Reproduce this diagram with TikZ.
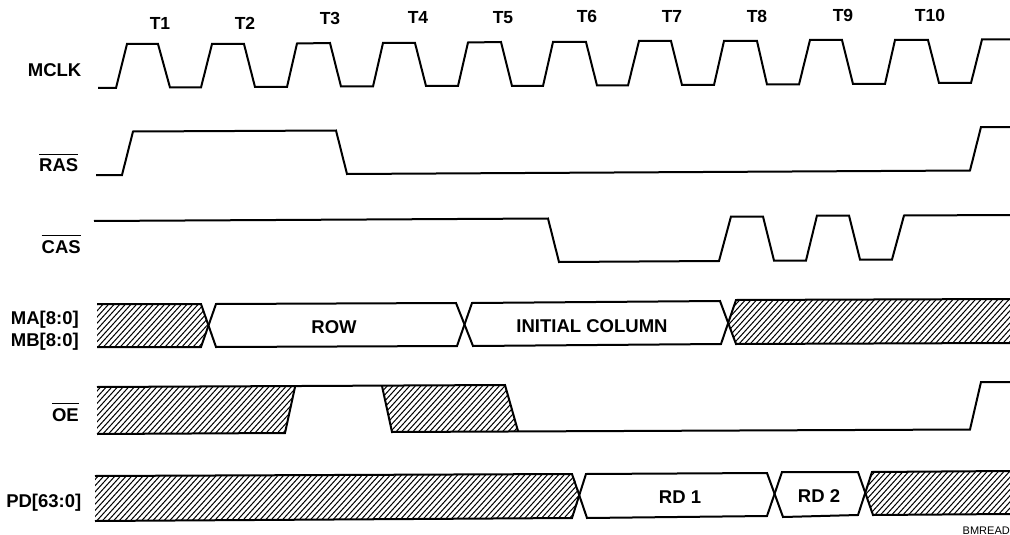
\documentclass[tikz,border=0pt]{standalone}
\usepackage{fontspec}
\setmainfont{Liberation Sans}
\newcommand\ovl[1]{\vbox{\hrule height 1.3pt \kern 3.6pt \hbox{#1}}}
\newcommand\hatchfill[1]{\begin{scope}\clip #1;
  \foreach \hx in {-130,-124.4,...,1012} \draw[hatchline] (\hx,530) -- ++(218,-240);
\end{scope}}
\tikzset{
  wave/.style={line width=2pt,line join=miter,black},
  hatchline/.style={line width=1pt,black},
  lab/.style={font=\bfseries\fontsize{18.5}{20}\selectfont,inner sep=0pt,anchor=base east,text=black},
  tick/.style={font=\bfseries\fontsize{17.5}{20}\selectfont,inner sep=0pt,anchor=base,text=black},
  inbus/.style={font=\bfseries\fontsize{18.5}{20}\selectfont,inner sep=0pt,anchor=base,text=black},
}
\begin{document}
\begin{tikzpicture}[x=1pt,y=-1pt]
\useasboundingbox[fill=white] (0,0) rectangle (1010,535);
% clock labels
\node[tick] (t1) at (160,30) {T1};
\node[tick] (t2) at (245,30) {T2};
\node[tick] (t3) at (330,24.5) {T3};
\node[tick] (t4) at (418,24) {T4};
\node[tick] (t5) at (503,24) {T5};
\node[tick] (t6) at (587,23) {T6};
\node[tick] (t7) at (672,23) {T7};
\node[tick] (t8) at (757,22.5) {T8};
\node[tick] (t9) at (843,22) {T9};
\node[tick] (t10) at (930,22) {T10};
% signal labels
\node[lab] (mclk) at (81.5,76.5) {MCLK};
\node[lab] (ras) at (78.5,171.5) {\ovl{RAS}};
\node[lab] (cas) at (81,253) {\ovl{CAS}};
\node[lab] (ma) at (79,324.5) {MA[8:0]};
\node[lab] (mb) at (79,346) {MB[8:0]};
\node[lab] (oe) at (79,421) {\ovl{OE}};
\node[lab] (pd) at (81.5,507.5) {PD[63:0]};
% MCLK
\draw[wave] (98,88) -- (116,88) -- (127,44) -- (158,44) -- (170,87.5) -- (201,87.5)
  -- (212,44) -- (244,44) -- (255,87) -- (287,87) -- (297,43.5) -- (330,43)
  -- (341,86.5) -- (373,86.5) -- (383,43) -- (415,43) -- (426,86) -- (458,86)
  -- (468,42.5) -- (501,42) -- (512,86) -- (543,86) -- (553,42) -- (586,42)
  -- (597,85.5) -- (628,85.5) -- (639,41) -- (671,41) -- (682,85) -- (714,85)
  -- (724,41) -- (757,41) -- (767,84.5) -- (799,84.5) -- (810,40) -- (842,40)
  -- (853,84) -- (885,84) -- (895,40) -- (928,40) -- (939,83) -- (971,83)
  -- (982,39.5) -- (1010,39.5);
% RAS
\draw[wave] (96,175) -- (122,175) -- (133,131.5) -- (336,130.5) -- (347,174)
  -- (970,170.5) -- (981,127) -- (1010,127);
% CAS
\draw[wave] (94,221) -- (548,218.5) -- (559,262) -- (719,261) -- (731,216.5)
  -- (763,216.5) -- (774,260.5) -- (806,260.5) -- (817,215.5) -- (849,215.5)
  -- (860,259.5) -- (892,259.5) -- (904,215.5) -- (1010,215);
% MA/MB bus
\hatchfill{(97,304) -- (201,304) -- (208,325) -- (201,347) -- (97,347) -- cycle}
\hatchfill{(736,300) -- (1010,299) -- (1010,343) -- (736,344) -- (728,323) -- cycle}
\draw[wave] (97,304) -- (201,304) -- (216,347) -- (457,346) -- (472,303) -- (720,301)
  -- (736,344) -- (1010,343);
\draw[wave] (97,347) -- (201,347) -- (216,304) -- (456,303) -- (473,346) -- (721,344)
  -- (736,300) -- (1010,299);
\node[inbus] (row) at (334,333) {ROW};
\node[inbus] (col) at (592,332) {INITIAL COLUMN};
% OE
\hatchfill{(97,387) -- (295,387) -- (285,433) -- (97,434) -- cycle}
\hatchfill{(382,386) -- (505,385) -- (518,431) -- (392,432) -- cycle}
\draw[wave] (97,387) -- (505,385) -- (518,431);
\draw[wave] (97,434) -- (285,433) -- (295,387);
\draw[wave] (382,386) -- (392,432) -- (970,429.5) -- (981,382) -- (1010,382);
% PD
\hatchfill{(95,476) -- (573,474) -- (580,495) -- (573,518) -- (95,521) -- cycle}
\hatchfill{(872,472) -- (1010,471) -- (1010,514) -- (873,515) -- (866,494) -- cycle}
\draw[wave] (95,476) -- (572,474) -- (587,518) -- (767,516) -- (782,472) -- (858,472)
  -- (873,515) -- (1010,514);
\draw[wave] (95,521) -- (572,518) -- (586,474) -- (767,473) -- (783,517) -- (858,515)
  -- (872,472) -- (1010,471);
\node[inbus] (rd1) at (680,503) {RD 1};
\node[inbus] (rd2) at (819,502) {RD 2};
\node[font=\fontsize{11}{12}\selectfont,inner sep=0pt,anchor=base east,text=black] (bm) at (1010,534.5) {BMREAD};
\end{tikzpicture}
\end{document}
